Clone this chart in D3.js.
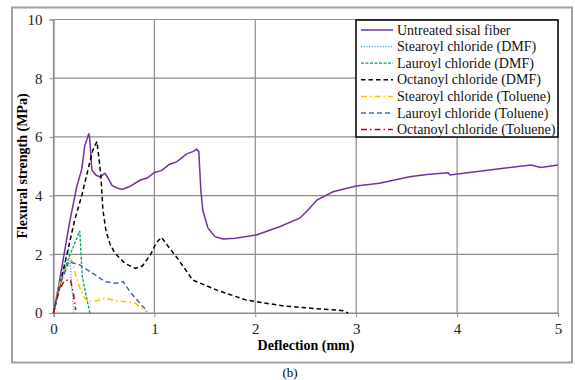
<!DOCTYPE html>
<html><head><meta charset="utf-8">
<script src="https://cdn.jsdelivr.net/npm/d3@7/dist/d3.min.js"></script>
<style>body{margin:0;background:#fff;}svg{display:block;font-family:"Liberation Serif","Times New Roman",serif;}</style>
</head><body><svg id="c" width="575" height="380"></svg>
<script>
const xTicks = [0,1,2,3,4,5];
const yTicks = [0,2,4,6,8,10];
const seriesNames = ["Untreated sisal fiber","Stearoyl chloride (DMF)","Lauroyl chloride (DMF)","Octanoyl chloride (DMF)","Stearoyl chloride (Toluene)","Lauroyl chloride (Toluene)","Octanoyl chloride (Toluene)"];
const untreated = [[0,0],[0.05,0.9],[0.1,1.9],[0.16,3.1],[0.23,4.3],[0.28,4.9],[0.31,5.7],[0.33,5.9],[0.35,6.12],[0.36,5.9],[0.38,4.87],[0.42,4.7],[0.46,4.64],[0.51,4.76],[0.54,4.6],[0.58,4.35],[0.63,4.26],[0.68,4.21],[0.75,4.3],[0.86,4.53],[0.93,4.6],[1.0,4.79],[1.07,4.85],[1.15,5.07],[1.22,5.15],[1.32,5.42],[1.38,5.5],[1.42,5.58],[1.44,5.5],[1.46,4.2],[1.48,3.5],[1.53,2.9],[1.6,2.6],[1.68,2.52],[1.8,2.55],[2.01,2.66],[2.24,2.94],[2.44,3.23],[2.52,3.5],[2.61,3.85],[2.77,4.13],[3.0,4.33],[3.23,4.42],[3.53,4.64],[3.7,4.72],[3.91,4.78],[3.93,4.7],[4.26,4.85],[4.5,4.95],[4.73,5.04],[4.78,5.0],[4.83,4.96],[5.0,5.04]];
const stearoylDMF = [[0,0],[0.08,1.3],[0.15,2.2],[0.17,1.5],[0.2,0]];
const lauroylDMF = [[0,0],[0.06,0.9],[0.12,1.6],[0.19,2.2],[0.26,2.8],[0.285,1.24],[0.36,0]];
const octanoylDMF = [[0,0],[0.1,1.5],[0.21,3.17],[0.28,4.0],[0.35,5.0],[0.39,5.55],[0.43,5.84],[0.45,5.3],[0.47,4.64],[0.49,3.5],[0.52,2.8],[0.56,2.35],[0.61,2.03],[0.71,1.69],[0.81,1.52],[0.88,1.6],[0.96,1.98],[1.02,2.4],[1.07,2.58],[1.13,2.3],[1.24,1.81],[1.38,1.12],[1.5,0.95],[1.62,0.78],[1.91,0.44],[2.28,0.24],[2.6,0.15],[2.87,0.08],[2.92,0]];
const stearoylTol = [[0,0],[0.06,1.0],[0.12,1.45],[0.18,1.8],[0.22,1.3],[0.25,0.95],[0.3,0.56],[0.34,0.38],[0.46,0.44],[0.51,0.5],[0.63,0.41],[0.74,0.38],[0.81,0.33],[0.89,0.13],[0.92,0.05]];
const lauroylTol = [[0,0],[0.08,1.1],[0.15,1.75],[0.18,1.72],[0.26,1.64],[0.39,1.35],[0.51,1.07],[0.61,1.01],[0.69,1.07],[0.77,0.67],[0.91,0.13],[0.93,0.05]];
const octanoylTol = [[0,0],[0.05,0.75],[0.1,1.05],[0.15,1.15],[0.17,1.1],[0.2,0.6],[0.22,0.1]];
const seriesData = [untreated,stearoylDMF,lauroylDMF,octanoylDMF,stearoylTol,lauroylTol,octanoylTol];
const colors = ["#7030A0","#4F9FD8","#00A650","#000000","#FFC000","#3F68AE","#C00000"];
const dashes = [null,"1.2,1.5","3,1.5","4.5,3","6,3,1.5,3","5,3","6,3,1.5,3"];
const widths = [1.5,1.2,1.3,1.5,1.5,1.5,1.5];

const svg = d3.select("#c");
const L=53.5,R=558,T=19.5,B=313;
const x = d3.scaleLinear().domain([0,5]).range([L,R]);
const y = d3.scaleLinear().domain([0,10]).range([B,T]);

svg.append("rect").attr("x",12).attr("y",7.5).attr("width",560).attr("height",355).attr("fill","#fff").attr("stroke","#a0a0a0").attr("stroke-width",2);

// grid
const g = svg.append("g");
g.selectAll(".gx").data(xTicks).join("line").attr("x1",d=>x(d)).attr("x2",d=>x(d)).attr("y1",T).attr("y2",B).attr("stroke","#8c8c8c").attr("stroke-width",1.2);
g.selectAll(".gy").data(yTicks).join("line").attr("x1",L).attr("x2",R).attr("y1",d=>y(d)).attr("y2",d=>y(d)).attr("stroke","#8c8c8c").attr("stroke-width",1.2);

const xa = svg.append("g").attr("transform",`translate(0,${B})`).call(d3.axisBottom(x).tickValues(xTicks).tickFormat(d3.format("d")).tickSize(4).tickPadding(6));
const ya = svg.append("g").attr("transform",`translate(${L},0)`).call(d3.axisLeft(y).tickValues(yTicks).tickFormat(d3.format("d")).tickSize(4).tickPadding(7));
[xa,ya].forEach(a=>{a.select(".domain").attr("stroke","#8c8c8c").attr("stroke-width",1.2);a.selectAll(".tick line").attr("stroke","#8c8c8c");a.selectAll("text").attr("font-family","Liberation Serif").attr("font-size",15).attr("fill","#222");});

const line = d3.line().x(d=>x(d[0])).y(d=>y(d[1]));
seriesData.forEach((s,i)=>{
  svg.append("path").datum(s).attr("d",line).attr("fill","none").attr("stroke",colors[i]).attr("stroke-width",widths[i]).attr("stroke-dasharray",dashes[i]);
});

svg.append("text").attr("x",306).attr("y",350).attr("text-anchor","middle").attr("font-weight","bold").attr("font-size",14).text("Deflection (mm)");
svg.append("text").attr("transform","translate(27,166) rotate(-90)").attr("text-anchor","middle").attr("font-weight","bold").attr("font-size",14).text("Flexural strength (MPa)");
svg.append("text").attr("x",290).attr("y",377).attr("text-anchor","middle").attr("font-size",13).text("(b)");

// legend
const lg = svg.append("g");
lg.append("rect").attr("x",356).attr("y",20).attr("width",202).attr("height",117).attr("fill","#fff").attr("stroke","#000").attr("stroke-width",1.5);
seriesNames.forEach((n,i)=>{
  const yy = 30 + i*16.6;
  lg.append("line").attr("x1",361).attr("x2",393).attr("y1",yy).attr("y2",yy).attr("stroke",colors[i]).attr("stroke-width",widths[i]).attr("stroke-dasharray",dashes[i]);
  lg.append("text").attr("x",397).attr("y",yy+4.5).attr("font-size",14).attr("fill","#111").text(n);
});
</script></body></html>
